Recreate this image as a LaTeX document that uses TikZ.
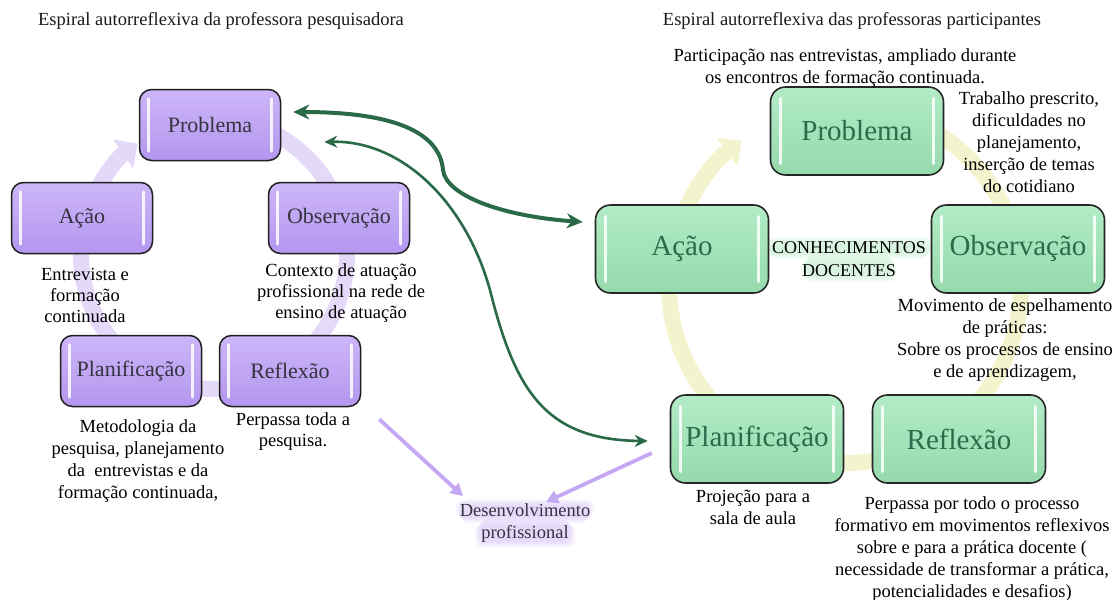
\documentclass[tikz,border=0pt]{standalone}
\usepackage{fontspec}
\setmainfont{Liberation Serif}
\usetikzlibrary{arrows.meta,calc,backgrounds}

\definecolor{lavring}{HTML}{E4D9F9}
\definecolor{lavtop}{HTML}{CDB6F8}
\definecolor{lavbot}{HTML}{B496EF}
\definecolor{lavarrow}{HTML}{C4A8F4}
\definecolor{lavglow}{HTML}{C6ABF5}
\definecolor{slate}{HTML}{34343F}
\definecolor{yelring}{HTML}{F3F3CE}
\definecolor{mintop}{HTML}{B2ECC6}
\definecolor{minbot}{HTML}{95DAAC}
\definecolor{mintxt}{HTML}{2D6B4A}
\definecolor{mintglow}{HTML}{A8E6B8}
\definecolor{forest}{HTML}{2A6A49}

\tikzset{
  note/.style={font=\fontsize{18.5}{22}\selectfont, align=center, inner sep=0pt, text=black},
  lnote/.style={note, font=\fontsize{18.5}{21}\selectfont},
  title/.style={font=\fontsize{18.5}{22}\selectfont, inner sep=0pt, text=black!90},
  lbox/.style={draw=black!88, line width=1.5pt, rounded corners=12pt,
    top color=lavtop, bottom color=lavbot, minimum width=141pt, minimum height=71pt,
    font=\fontsize{22}{26}\selectfont, text=slate, inner sep=0pt},
  gbox/.style={draw=black!85, line width=1.6pt, rounded corners=15pt,
    top color=mintop, bottom color=minbot, minimum width=173pt, minimum height=88pt,
    font=\fontsize{29}{34}\selectfont, text=mintxt, inner sep=0pt},
  lring/.style={draw=lavring, line width=16pt, -{Triangle[length=18pt,width=34pt]}},
  gring/.style={draw=yelring, line width=16pt, -{Triangle[length=18pt,width=34pt]}},
  shine/.style={draw=white, line width=2.6pt, line cap=round, opacity=0.85},
  thicklink/.style={draw=forest, line width=4pt,
    {Stealth[length=16pt,width=15pt]}-{Stealth[length=16pt,width=15pt]}},
  thinlink/.style={draw=forest, line width=2.6pt,
    {Stealth[length=13pt,width=12pt]}-{Stealth[length=13pt,width=12pt]}},
  lavlink/.style={draw=lavarrow, line width=3.8pt, -{Triangle[length=12pt,width=13pt]}},
}

% white gloss strips along the inner left and right edges of a box
\newcommand\boxshine[3]{%
  \draw[shine] ($(#1.north west)+(#2,#3)$) -- ($(#1.south west)+(#2,-#3)$);
  \draw[shine] ($(#1.north east)+(-#2,#3)$) -- ($(#1.south east)+(-#2,-#3)$);
}

% soft halo behind a two-line text node:
% node, colour, half width of line 1, half width of line 2
\newcommand\halo[4]{%
  \begin{scope}[on background layer]
    \foreach \d in {0,1.5,...,6}{
      \fill[#2, opacity=0.11, rounded corners=7pt]
        ($(#1.center)+(-#3-\d,-\d)$) rectangle ($(#1.north)+(#3+\d,-\d+2)$);
      \fill[#2, opacity=0.11, rounded corners=7pt]
        ($(#1.center)+(-#4-\d,\d-4)$) rectangle ($(#1.south)+(#4+\d,\d-1)$);
    }
  \end{scope}
}

\begin{document}
\begin{tikzpicture}[x=1pt,y=-1pt]
\useasboundingbox (0,0) rectangle (1117,600);

% ---------- titles ----------
\node[title] (tleft) at (221,21) {Espiral autorreflexiva da professora pesquisadora};
\node[title] (tright) at (852,21) {Espiral autorreflexiva das professoras participantes};

% ---------- cycle rings ----------
\draw[lring] (214,254) ++(-65:133 and 135) arc[start angle=-65, end angle=235, x radius=133, y radius=135];
\draw[gring] (845,285) ++(-70:176 and 178) arc[start angle=-70, end angle=234, x radius=176, y radius=178];

% ---------- researcher cycle ----------
\node[lbox] (lprob) at (210,125) {Problema};
\node[lbox] (lacao) at (82,218) {Ação};
\node[lbox] (lobs)  at (339,218) {Observação};
\node[lbox] (lplan) at (131,371) {Planificação};
\node[lbox] (lrefl) at (290,371) {Reflexão};
\foreach \b in {lprob,lacao,lobs,lplan,lrefl}{\boxshine{\b}{10}{10}}

\node[lnote] (nacao) at (85,295) {Entrevista e\\formação\\continuada};
\node[lnote] (nobs)  at (341,293) {Contexto de atuação\\profissional na rede de\\ensino de atuação};
\node[note]  (nplan) at (138,461) {Metodologia da\\pesquisa, planejamento\\da\ \ entrevistas e da\\formação continuada,};
\node[lnote] (nrefl) at (293,432) {Perpassa toda a\\pesquisa.};

% ---------- participants cycle ----------
\node[gbox] (gprob) at (857,131) {Problema};
\node[gbox] (gacao) at (682,249) {Ação};
\node[gbox] (gobs)  at (1018,249) {Observação};
\node[gbox] (gplan) at (757,439) {Planificação};
\node[gbox] (grefl) at (959,439) {Reflexão};
\foreach \b in {gprob,gacao,gobs,gplan,grefl}{\boxshine{\b}{11}{12}}

\node[note, font=\fontsize{18}{23}\selectfont] (saberes) at (849,259) {CONHECIMENTOS\\DOCENTES};
\halo{saberes}{mintglow}{78}{42}

\node[note] (gnprob0) at (845,68) {Participação nas entrevistas, ampliado durante\\os encontros de formação continuada.};
\node[note] (gnprob) at (1029,142) {Trabalho prescrito,\\dificuldades no\\planejamento,\\inserção de temas\\do cotidiano};
\node[note] (gnobs)  at (1005,340) {Movimento de espelhamento\\de práticas:\\Sobre os processos de ensino\\e de aprendizagem,};
\node[note] (gnplan) at (753,507) {Projeção para a\\sala de aula};
\node[note] (gnrefl) at (972,549) {Perpassa por todo o processo\\formativo em movimentos reflexivos\\sobre e para a prática docente (\\necessidade de transformar a prática,\\potencialidades e desafios)};

% ---------- links between the two cycles ----------
\draw[thicklink] ($(lprob.east)+(12,-13)$) .. controls (400,112) and (440,135) .. (443,170)
  .. controls (446,195) and (500,216) .. ($(gacao.west)+(-12,-27)$);
\draw[thinlink] ($(lprob.east)+(43,17)$) .. controls (400,140) and (465,200) .. (490,290)
  .. controls (515,390) and (545,440) .. ($(gplan.west)+(-22,2)$);

% ---------- professional development ----------
\node[note, text=slate] (desenv) at (525,523) {Desenvolvimento\\profissional};
\halo{desenv}{lavglow}{63}{44}
\draw[lavlink] ($(lrefl.south east)+(18,12)$) -- ($(desenv.center)+(-62,-27)$);
\draw[lavlink] ($(gplan.west)+(-18,14)$) -- ($(desenv.center)+(21,-21)$);
\end{tikzpicture}
\end{document}
